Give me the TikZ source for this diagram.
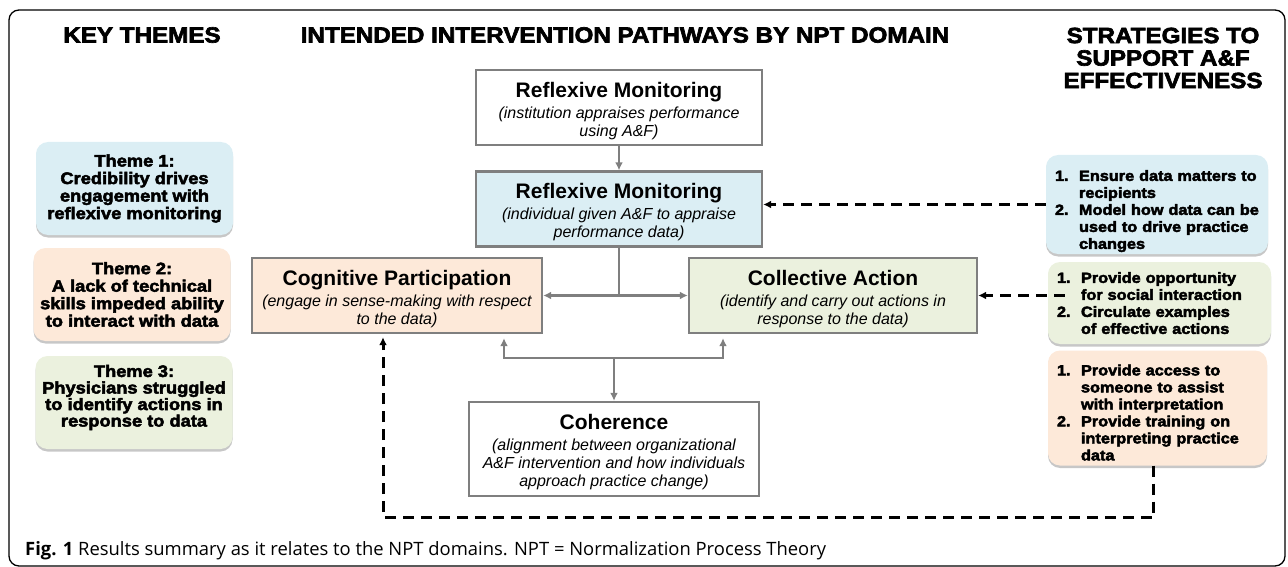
\documentclass[tikz,border=0pt]{standalone}
\usepackage{fontspec}
\setmainfont{Liberation Sans}
\newfontfamily\heavyfont{Liberation Sans}[BoldFeatures={FakeBold=3,FakeStretch=1.1}]
\newfontfamily\capfont{Open Sans}
\usetikzlibrary{arrows.meta,calc,shadows}

\definecolor{boxgray}{HTML}{7F7F7F}
\definecolor{rmblue}{HTML}{DBEEF4}
\definecolor{cppeach}{HTML}{FDE9D9}
\definecolor{cagreen}{HTML}{EBF1DE}

\tikzset{
  colhead/.style={font=\heavyfont\bfseries\fontsize{22}{22.5}\selectfont, align=center, inner sep=0pt},
  nptbox/.style={draw=boxgray, line width=2.4pt, minimum width=286pt, minimum height=75pt,
    align=center, inner sep=0pt, font=\fontsize{16}{18}\selectfont},
  themebox/.style={rounded corners=12pt, minimum width=197pt, minimum height=93pt, align=center,
    inner sep=0pt, font=\heavyfont\bfseries\fontsize{16.6}{17.5}\selectfont,
    drop shadow={shadow xshift=0pt, shadow yshift=-2.5pt, opacity=0.22, fill=black}},
  stratbox/.style={rounded corners=12pt, minimum width=222pt, align=left, inner xsep=9pt,
    inner ysep=0pt, font=\heavyfont\bfseries\fontsize{14.8}{17}\selectfont,
    drop shadow={shadow xshift=0pt, shadow yshift=-2.5pt, opacity=0.22, fill=black}},
  grayline/.style={boxgray, line width=2.6pt},
  graytip/.style={-{Latex[length=8pt,width=8pt]}},
  graytips/.style={{Latex[length=8pt,width=8pt]}-{Latex[length=8pt,width=8pt]}},
  dashline/.style={black, line width=3pt, dash pattern=on 11pt off 7pt,
    -{Latex[length=8pt,width=8pt]}}
}
% domain title line, with a taller strut so the block sits a little lower
\newcommand{\dtitle}[1]{{\fontsize{21}{24}\selectfont\bfseries\rule{0pt}{22pt}#1}}
\newcommand{\stratlist}[1]{\begin{tabular}{@{}p{24pt}@{}l@{}}#1\end{tabular}}
% extra space above / below a block of text
\newcommand{\padtop}[2]{\raisebox{0pt}[\dimexpr\height+#1\relax][\depth]{#2}}
\newcommand{\padbot}[2]{\raisebox{0pt}[\height][\dimexpr\depth+#1\relax]{#2}}

\begin{document}
\begin{tikzpicture}[x=1pt, y=-1pt]
  \useasboundingbox (0,0) rectangle (1288,567);

  % outer frame
  \draw[black, line width=1.3pt, rounded corners=10pt] (9,10) rectangle (1285,566);

  % column headings
  \node[colhead] (hkey) at (142,35) {KEY THEMES};
  \node[colhead] (hpath) at (625,35) {INTENDED INTERVENTION PATHWAYS BY NPT DOMAIN};
  \node[colhead] (hstrat) at (1163,58) {STRATEGIES TO\\SUPPORT A\&F\\EFFECTIVENESS};

  % key themes
  \node[themebox, fill=rmblue] (t1) at (134.5,188.5)
    {Theme 1:\\Credibility drives\\engagement with\\reflexive monitoring};
  \node[themebox, fill=cppeach] (t2) at (132,294.5)
    {Theme 2:\\A lack of technical\\skills impeded ability\\to interact with data};
  \node[themebox, fill=cagreen, font=\heavyfont\bfseries\fontsize{16.6}{15}\selectfont] (t3) at (134,402.5)
    {\padbot{9pt}{\begin{tabular}{@{}c@{}}Theme 3:\\Physicians struggled\\to identify actions in\\response to data\end{tabular}}};

  % NPT domains
  \node[nptbox, fill=white] (rmt) at (619,107.5)
    {\dtitle{Reflexive Monitoring}\\[3pt]\itshape (institution appraises performance\\\itshape using A\&F)};
  \node[nptbox, fill=rmblue] (rmb) at (619,209)
    {\dtitle{Reflexive Monitoring}\\[3pt]\itshape (individual given A\&F to appraise\\\itshape performance data)};
  \node[nptbox, fill=cppeach, minimum width=290pt] (cp) at (397,295.5)
    {\dtitle{Cognitive Participation}\\[3pt]\itshape (engage in sense-making with respect\\\itshape to the data)};
  \node[nptbox, fill=cagreen, minimum width=288pt] (ca) at (833,295.5)
    {\dtitle{Collective Action}\\[3pt]\itshape (identify and carry out actions in\\\itshape response to the data)};
  \node[nptbox, fill=white, minimum width=290pt, minimum height=94pt] (coh) at (614,449)
    {\dtitle{Coherence}\\[3pt]\itshape (alignment between organizational\\\itshape A\&F intervention and how individuals\\\itshape approach practice change)};

  % strategies
  \node[stratbox, fill=rmblue, minimum height=97pt, text width=204pt] (sa) at (1157,204.5)
    {\padtop{14pt}{\stratlist{1. & Ensure data matters to\\ & recipients\\ 2. & Model how data can be\\ & used to drive practice\\ & changes}}};
  \node[stratbox, fill=cagreen, minimum width=223pt, minimum height=82pt, text width=205pt] (sb) at (1159.5,303)
    {\padtop{4pt}{\stratlist{1. & Provide opportunity\\ & for social interaction\\ 2. & Circulate examples\\ & of effective actions}}};
  \node[stratbox, fill=cppeach, minimum width=219pt, minimum height=110pt, text width=201pt] (sc) at (1157.5,408)
    {\padtop{13pt}{\stratlist{1. & Provide access to\\ & someone to assist\\ & with interpretation\\ 2. & Provide training on\\ & interpreting practice\\ & data}}};

  % solid pathway connectors
  \coordinate (jtop) at (rmb.south |- cp.east);
  \coordinate (jbot) at ($(coh.north)+(0,-43)$);
  \coordinate (cpfoot) at ($(cp.south)+(107,0)$);
  \coordinate (cafoot) at ($(ca.south)+(-110,0)$);
  \draw[grayline, graytip] (rmt) -- (rmb);
  \draw[grayline] (rmb.south) -- (jtop);
  \draw[grayline, graytip] (jtop) -- (cp.east);
  \draw[grayline, graytip] (jtop) -- (ca.west);
  \draw[grayline, graytips, shorten <=4pt, shorten >=4pt]
    (cpfoot) -- (cpfoot |- jbot) -- (cafoot |- jbot) -- (cafoot);
  \draw[grayline, graytip] (jbot) -- (coh.north);

  % dashed strategy connectors
  \draw[dashline] (sa.west) -- (sa.west -| rmb.east);
  \draw[dashline] ([xshift=17pt]sb.west |- ca.east) -- (ca.east);
  \coordinate (loopr) at ($(sc.south)+(-4,52)$);
  \coordinate (cpin) at ($(cp.south)+(-14,0)$);
  \draw[dashline, shorten >=3pt] ([xshift=-4pt]sc.south) -- (loopr) -- (loopr -| cpin) -- (cpin);

  % caption
  \node[anchor=base west, inner sep=0pt, font=\capfont\fontsize{18.4}{20}\selectfont] (cap) at (25,555)
    {\textbf{Fig. 1} Results summary as it relates to the NPT domains. NPT = Normalization Process Theory};
\end{tikzpicture}
\end{document}
